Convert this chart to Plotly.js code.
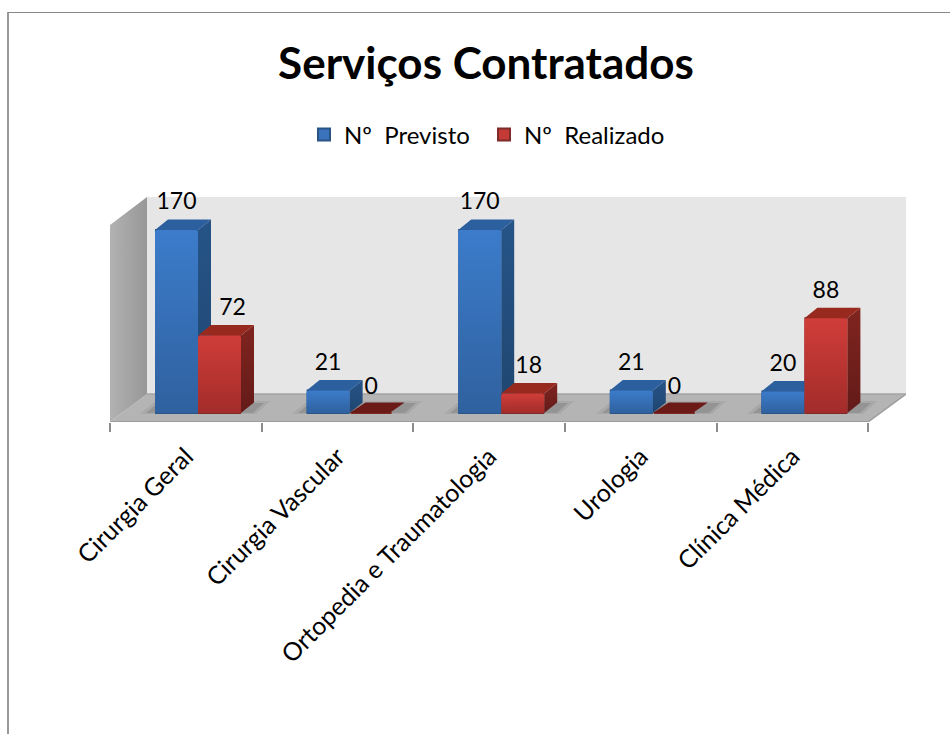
<!DOCTYPE html>
<html><head><meta charset="utf-8">
<script src="https://cdn.plot.ly/plotly-3.0.1.min.js"></script>
<style>html,body{margin:0;padding:0;background:#fff;overflow:hidden}
#chart{position:absolute;left:0;top:0;width:950px;height:734px}
#frame{position:absolute;left:7px;top:12px;width:943px;height:722px;border-left:2px solid #999;border-top:1px solid #888;pointer-events:none;box-sizing:border-box}</style>
</head><body><div id="chart"></div><div id="frame"></div>
<script>
const categories = ['Cirurgia Geral','Cirurgia Vascular','Ortopedia e Traumatologia','Urologia','Clínica Médica'];
const previsto = [170,21,170,21,20];
const realizado = [72,0,18,0,88];
const seriesNames = ['Nº\u00a0\u00a0Previsto','Nº\u00a0\u00a0Realizado'];
const chartTitle = 'Serviços Contratados';

// pixel geometry of the plot
const L=110,R=906,T=197,B=422,PPC=151.6,X0=186,Y0=413,PPU=1.0765;
const X=p=>(p-X0)/PPC, Y=p=>(Y0-p)/PPU;
const barW=43/PPC, dx=13/PPC, dy=10.5/PPU, chX=1.5/PPC, chY=1.5/PPU;
const offs=[X(155),X(198)];
const styles=[
 {bar:'#3a72bb',edge:'#2a5486',front:['#3c7ccb','#2f619f'],side:['#265488','#1f4670'],top:'#2c5f9e'},
 {bar:'#c43a37',edge:'#7d2a28',front:['#d03d39','#a22c2a'],side:['#80241f','#631b19'],top:'#98291f'}
];
const poly=(xs,ys,color,grad,gtype)=>{
  const t={type:'scatter',mode:'none',x:[...xs,xs[0]],y:[...ys,ys[0]],fill:'toself',fillcolor:color,hoverinfo:'skip',showlegend:false,xaxis:'x',yaxis:'y'};
  if(grad)t.fillgradient={type:gtype||'vertical',colorscale:[[0,grad[1]],[1,grad[0]]]};
  return t;
};
const traces=[];
const series=[previsto,realizado];
// real bars (kept 1px inside the faces so their outline only shows in the legend swatch)
series.forEach((vals,s)=>traces.push({type:'bar',name:seriesNames[s],x:categories.map((c,i)=>i),y:vals,width:barW-2/PPC,offset:offs[s]+1/PPC,
  marker:{color:styles[s].bar,line:{width:2,color:styles[s].edge}},hoverinfo:'x+y'}));
// left side wall
traces.push(poly([X(110),X(147),X(147),X(110)],[Y(225),Y(197),Y(394),Y(422)],'#a3a3a3',['#979797','#b2b2b2'],'horizontal'));
// 3-D faces derived from the values
series.forEach((vals,s)=>{
  vals.forEach((v,i)=>{
    const x0=i+offs[s],x1=x0+barW,st=styles[s];
    if(v===0){
      traces.push(poly([x0,x0+16/PPC,x1+12/PPC,x1-3/PPC],[0,dy,dy,0],'#6b1a18'));
      return;
    }
    traces.push(poly([x1,x1+dx,x1+dx,x1],[v,v+dy,dy,0],st.side[0],st.side));
    traces.push(poly([x0,x0+dx,x1+dx,x1],[v,v+dy,v+dy,v],st.top));
    traces.push(poly([x0,x0,x0+chX,x1-chX,x1,x1],[0,v-chY,v,v,v-chY,0],st.front[0],st.front));
  });
});
// value labels
const labelShiftPx=[[0,0,0,0,0],[13,0,6,0,0]];
series.forEach((vals,s)=>{
  traces.push({type:'scatter',mode:'text',x:vals.map((v,i)=>i+offs[s]+barW/2+labelShiftPx[s][i]/PPC),y:vals.map(v=>v+(v===0?23:24.5)),
   text:vals.map(String),textposition:'middle center',textfont:{family:'Lato, sans-serif',size:23,color:'#000'},cliponaxis:false,hoverinfo:'skip',showlegend:false});
});
// wall, floor and shadows
const path=pts=>'M'+pts.map(p=>X(p[0])+','+Y(p[1])).join('L')+'Z';
const shape=(pts,fill,op)=>({type:'path',xref:'x',yref:'y',layer:'below',path:path(pts),fillcolor:fill,opacity:op===undefined?1:op,line:{width:0}});
const shapes=[
 shape([[147,197],[906,197],[906,394],[147,394]],'#e6e6e6'),
 shape([[110,422],[147,394],[906,394],[868,422]],'#b4b4b4'),
];
const spans=[[140,268],[292,420],[444,572],[596,724],[747,875]];
spans.forEach(sp=>{
  shapes.push(shape([[sp[0],414],[sp[0]+16,401],[sp[1]+2,401],[sp[1]-12,414]],'#555',0.12));
  shapes.push(shape([[sp[0]+6,413],[sp[0]+18,403],[sp[1]-4,403],[sp[1]-15,413]],'#444',0.2));
});
shapes.push({type:'line',xref:'x',yref:'y',layer:'below',x0:X(110),x1:X(868),y0:Y(422),y1:Y(422),line:{color:'#9c9c9c',width:2}});
shapes.push({type:'line',xref:'x',yref:'y',layer:'below',x0:X(868),x1:X(906),y0:Y(422),y1:Y(394),line:{color:'#9c9c9c',width:1.5}});
shapes.push({type:'line',xref:'x',yref:'y',layer:'below',x0:X(147),x1:X(906),y0:Y(394),y1:Y(394),line:{color:'#a4a4a4',width:1.5}});
const layout={
 width:950,height:734,paper_bgcolor:'rgba(0,0,0,0)',plot_bgcolor:'rgba(0,0,0,0)',
 margin:{l:L,r:950-R,t:T,b:734-B,pad:0},
 font:{family:'Lato, sans-serif',color:'#000'},
 title:{text:'<b>'+chartTitle+'</b>',font:{family:'Lato, sans-serif',size:44,color:'#000'},x:486/950,xanchor:'center',xref:'container',y:1-64/734,yanchor:'middle',yref:'container'},
 barmode:'overlay',showlegend:true,
 legend:{orientation:'h',x:(304-L)/(R-L),xanchor:'left',y:(B-135)/(B-T),yanchor:'middle',font:{family:'Lato, sans-serif',size:24,color:'#000'},bgcolor:'rgba(0,0,0,0)',itemwidth:30,entrywidth:135,entrywidthmode:'pixels',tracegroupgap:0},
 xaxis:{range:[X(L),X(R)],tickmode:'array',tickvals:categories.map((c,i)=>i),ticktext:categories,tickangle:-45,ticks:'',showgrid:false,zeroline:false,showline:false,
   tickfont:{family:'Lato, sans-serif',size:25,color:'#000'},automargin:false,ticklabelstandoff:14,
   minor:{tickmode:'array',tickvals:[-0.5,0.5,1.5,2.5,3.5,4.5],ticks:'outside',ticklen:9,tickwidth:1.5,tickcolor:'#8c8c8c',showgrid:false}},
 yaxis:{range:[Y(B),Y(T)],visible:false,showgrid:false,zeroline:false,fixedrange:true},
 shapes:shapes
};
Plotly.newPlot('chart',traces,layout,{displayModeBar:false});
</script></body></html>
